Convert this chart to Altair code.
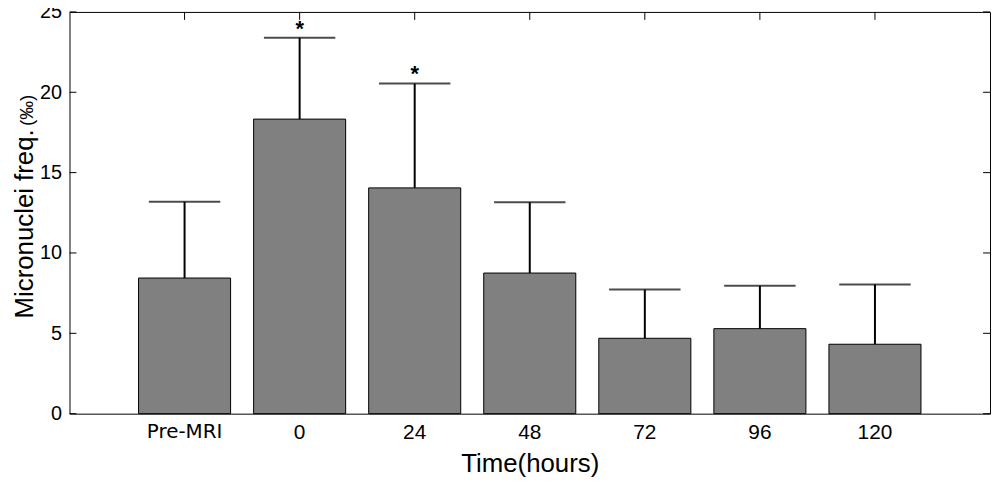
import altair as alt
import pandas as pd

categories = ["Pre-MRI", "0", "24", "48", "72", "96", "120"]
means = [8.44, 18.33, 14.05, 8.75, 4.69, 5.29, 4.32]
uppers = [13.19, 23.4, 20.54, 13.15, 7.72, 7.96, 8.04]
star_cats = ["0", "24"]
star_vals = [24.25, 21.44]
y_ticks = [0, 5, 10, 15, 20, 25]

df = pd.DataFrame({"cat": categories, "mean": means, "upper": uppers})
stars = pd.DataFrame({"cat": star_cats, "y": star_vals, "s": ["*", "*"]})
yt = pd.DataFrame({"v": y_ticks})
ytitle = pd.DataFrame({"t": ["Micronuclei freq."]})
ytitle2 = pd.DataFrame({"t": ["(‰)"]})

FONT = "Liberation Sans"
W, H = 928, 405

xscale = alt.Scale(domain=categories, paddingInner=0.2, paddingOuter=0.6)
yscale = alt.Scale(domain=[0, 25], nice=False, zero=True)

xaxis = alt.Axis(
    title="Time(hours)", ticks=False, domain=False, grid=False,
    labelFont=alt.expr("datum.label == 'Pre-MRI' ? 'DejaVu Sans' : 'Liberation Sans'"),
    labelFontSize=alt.expr("datum.label == 'Pre-MRI' ? 20 : 21"),
    labelColor="black", labelPadding=8, labelAngle=0, labelAlign="center",
    labelBaseline="top",
    titleFont=FONT, titleFontSize=26, titleFontWeight="normal",
    titleColor="black", titlePadding=8,
)
yaxis = alt.Axis(
    title=None, values=y_ticks, ticks=False, domain=False, grid=False,
    labelFont=FONT, labelFontSize=20, labelColor="black", labelPadding=8,
)

base = alt.Chart(df)

bars = base.mark_bar(color="#808080", stroke="black", strokeWidth=1).encode(
    x=alt.X("cat:N", scale=xscale, axis=xaxis, sort=categories),
    y=alt.Y("mean:Q", scale=yscale, axis=yaxis),
)

err = base.mark_rule(color="black", strokeWidth=2).encode(
    x=alt.X("cat:N", scale=xscale, sort=categories),
    y=alt.Y("mean:Q", scale=yscale),
    y2="upper:Q",
)

caps = base.mark_tick(color="black", thickness=2, size=72, orient="horizontal").encode(
    x=alt.X("cat:N", scale=xscale, sort=categories),
    y=alt.Y("upper:Q", scale=yscale),
)

star_marks = alt.Chart(stars).mark_text(
    font=FONT, fontSize=22, fontWeight="bold", color="black", baseline="middle", dy=5
).encode(
    x=alt.X("cat:N", scale=xscale, sort=categories),
    y=alt.Y("y:Q", scale=yscale),
    text="s:N",
)

left_ticks = alt.Chart(yt).mark_rule(color="black", strokeWidth=1).encode(
    y=alt.Y("v:Q", scale=yscale), x=alt.value(0), x2=alt.value(7)
)
right_ticks = alt.Chart(yt).mark_rule(color="black", strokeWidth=1).encode(
    y=alt.Y("v:Q", scale=yscale), x=alt.value(W - 7), x2=alt.value(W)
)
top_ticks = base.mark_rule(color="black", strokeWidth=1).encode(
    x=alt.X("cat:N", scale=xscale, sort=categories), y=alt.value(0), y2=alt.value(8)
)

yt1 = alt.Chart(ytitle).mark_text(
    font=FONT, fontSize=26, color="black", angle=270, align="left", baseline="alphabetic"
).encode(x=alt.value(-37), y=alt.value(309), text="t:N")
yt2 = alt.Chart(ytitle2).mark_text(
    font=FONT, fontSize=19, color="black", angle=270, align="left", baseline="alphabetic"
).encode(x=alt.value(-37), y=alt.value(115), text="t:N")

chart = alt.layer(
    left_ticks, right_ticks, top_ticks, bars, err, caps, star_marks, yt1, yt2
).properties(
    width=W, height=H,
    autosize=alt.AutoSizeParams(type="none"),
    padding={"left": 62, "top": 2, "right": 2, "bottom": 75},
).configure(background="white").configure_view(stroke="black", strokeWidth=1)

chart.save("out.html", embed_options={"renderer": "svg", "actions": False})
